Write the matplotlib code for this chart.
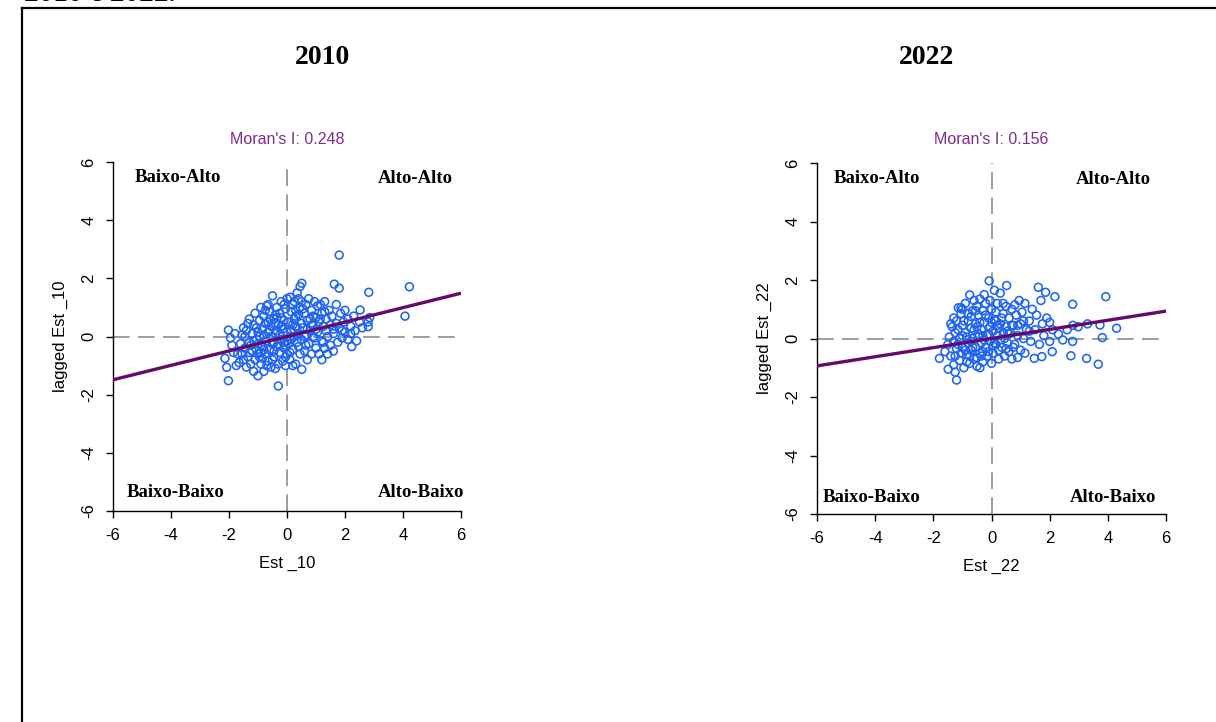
import numpy as np
import matplotlib.pyplot as plt
from matplotlib.lines import Line2D

# ---- data ----
x10 = [-2.02, -2.08, -2.14, -2.02, -1.9, -1.8, -1.7, -1.65, -1.6, -1.55, -1.75, -1.85, -1.5, -1.5, -1.95,
       -1.45, -1.4, -1.4, -1.35, -1.3, -1.3, -1.25, -1.2, -1.2, -1.15, -1.15, -1.1, -1.1, -1.05, -1.05, -1.0, -1.0, -1.45, -1.35, -1.25,
       -0.95, -0.95, -0.9, -0.9, -0.85, -0.85, -0.8, -0.8, -0.75, -0.75, -0.7, -0.7, -0.65, -0.65, -0.6, -0.6, -0.55, -0.55, -0.5, -0.5,
       -0.9, -0.8, -0.7, -0.6, -1.0, -0.85, -0.65, -0.55,
       -0.45, -0.45, -0.4, -0.4, -0.35, -0.35, -0.3, -0.3, -0.25, -0.25, -0.2, -0.2, -0.15, -0.15, -0.1, -0.1, -0.05, -0.05, 0.0, 0.0,
       -0.45, -0.4, -0.3, -0.2, -0.1, -0.35, 0.0, -0.05,
       0.05, 0.05, 0.1, 0.1, 0.15, 0.15, 0.2, 0.2, 0.25, 0.25, 0.3, 0.3, 0.35, 0.35, 0.4, 0.4, 0.45, 0.45, 0.5, 0.5,
       0.1, 0.2, 0.3, 0.4, 0.5, 0.45, 0.51,
       0.51, 0.55, 0.6, 0.6, 0.65, 0.65, 0.7, 0.75, 0.75, 0.8, 0.85, 0.85, 0.9, 0.95, 0.95, 1.0, 1.0, 0.7, 0.8, 0.9,
       1.05, 1.05, 1.1, 1.1, 1.15, 1.2, 1.2, 1.25, 1.3, 1.3, 1.35, 1.4, 1.45, 1.5, 1.5, 1.2, 1.4, 1.35,
       1.55, 1.6, 1.6, 1.63, 1.7, 1.7, 1.75, 1.8, 1.8, 1.8, 1.85, 1.9, 1.95, 2.0, 2.0,
       2.1, 2.1, 2.2, 2.23, 2.3, 2.35, 2.4, 2.5, 2.52, 2.6, 2.8, 2.8, 2.82, 2.85,
       4.07, 4.22,
       -1.15, -1.0, -0.9, -0.75, -0.6, -0.5, -0.4, -0.3, -0.2, -0.1, 0.0, 0.1, 0.2, 0.3, 0.4, 0.55, 0.7, 0.85, 1.0, 1.15,
       1.3, -0.95, -0.8, -0.65, -0.45, -0.25, -0.05, 0.15, 0.35, 0.6, 0.9, 1.25, -1.3, -1.55, -0.35, 0.25, 0.65, 1.6, 1.9, 2.2]
y10 = [-1.52, -1.06, -0.75, 0.22, -0.3, 0.1, -0.6, -0.9, -0.25, 0.05, -1.0, -0.55, -0.8, 0.3, -0.05,
       -0.4, 0.2, -1.05, -0.7, 0.6, -0.2, -0.95, 0.1, -0.5, 0.4, -1.2, -0.8, 0.8, -0.1, 0.3, -1.35, -0.6, 0.0, 0.45, -0.3,
       0.0, 0.55, -0.95, 1.0, -0.35, 0.25, -1.2, 0.7, -0.6, 0.45, 1.05, -0.15, -0.85, 0.15, 0.85, -0.45, -1.05, 0.35, 1.4, -0.25,
       -0.55, 0.05, -1.0, 0.6, -0.25, -0.75, 1.1, 0.0,
       -0.7, 0.6, 0.1, -1.1, 1.0, -0.35, -1.7, 0.4, -0.55, 0.8, -0.1, 1.2, -0.85, 0.25, 0.55, -0.4, -1.0, 0.95, 0.15, -0.6,
       -0.2, 0.45, -0.95, 0.65, -0.2, 0.2, 1.3, -0.3,
       0.5, -0.25, 1.35, -0.8, 0.2, 0.85, -0.45, 1.1, 0.0, 0.6, -0.95, 0.35, 1.5, -0.2, 0.75, 0.1, -0.6, 1.0, 0.45, -0.1,
       0.0, 0.4, 0.9, -0.35, 1.2, 1.72, 1.83,
       -1.13, 0.3, 0.8, -0.5, 1.1, 0.05, 0.55, -0.25, 1.3, 0.2, 0.9, -0.6, 0.4, 1.2, -0.05, 0.65, -0.4, -0.8, 0.6, 0.0,
       0.15, 1.05, -0.6, 0.5, 1.1, -0.15, 0.8, 0.35, -0.4, 1.2, 0.6, 0.0, 0.9, -0.3, 0.4, -0.8, -0.6, 0.2,
       0.7, 0.1, -0.5, 1.80, 0.45, 1.1, -0.2, 2.80, 1.66, 0.3, 0.8, -0.05, 0.5, 0.9, 0.15,
       0.6, -0.1, 0.35, -0.35, 0.7, 0.2, -0.15, 0.5, 0.91, 0.3, 0.34, 0.5, 1.52, 0.65,
       0.70, 1.71,
       -0.15, 0.15, -0.3, 0.9, 0.2, -0.8, 0.75, -0.25, 0.35, 1.1, -0.15, -0.55, -1.0, 0.7, 1.3, 0.95, 0.25, 0.4, 0.25, 0.6,
       0.85, -0.7, -0.45, 0.5, -0.5, 0.05, -0.7, -0.1, 0.3, 0.0, 0.7, -0.2, -0.55, -0.6, 0.65, 1.2, -0.3, 0.25, 0.2, 0.1]

x22 = [-1.79, -1.49, -1.5, -1.45, -1.4, -1.35, -1.3, -1.25, -1.2, -1.2, -1.14, -1.2, -1.3, -1.6, -1.25,
       -1.1, -1.1, -1.05, -1.0, -1.0, -0.95, -0.9, -0.9, -0.85, -0.8, -0.8, -0.75, -0.75, -0.7, -0.7, -0.65, -0.65, -0.6, -0.6,
       -1.15, -1.05, -0.95, -0.85, -0.7, -1.0,
       -0.55, -0.55, -0.5, -0.5, -0.45, -0.45, -0.4, -0.4, -0.35, -0.35, -0.3, -0.3, -0.25, -0.2, -0.2, -0.15, -0.15, -0.1,
       -0.08, -0.05, -0.05, 0.0, 0.0, -0.5, -0.3, -0.1, -0.4, -0.25,
       0.05, 0.05, 0.1, 0.1, 0.15, 0.2, 0.2, 0.25, 0.3, 0.3, 0.35, 0.4, 0.4, 0.45, 0.5, 0.5, 0.52, 0.55, 0.15, 0.25, 0.45, 0.6, 0.6,
       0.65, 0.7, 0.7, 0.75, 0.8, 0.85, 0.9, 0.95, 1.0, 1.0, 1.05, 1.1, 1.15, 1.15, 1.2, 0.8, 0.9,
       1.3, 1.35, 1.4, 1.47, 1.5, 1.55, 1.61, 1.65, 1.73, 1.75, 1.8, 1.86, 1.9, 2.0, 2.09, 2.1, 2.18, 1.7, 2.0,
       2.3, 2.45, 2.6, 2.73, 2.79, 2.79, 2.8, 2.98, 3.27, 3.3, 3.67, 3.73, 3.81, 3.93, 4.30,
       -1.3, -1.15, -1.0, -0.9, -0.8, -0.7, -0.6, -0.5, -0.4, -0.3, -0.2, -0.1, 0.0, 0.1, 0.2, 0.3, 0.4, 0.5, 0.6, 0.7,
       -1.05, -0.85, -0.65, -0.45, -0.25, -0.05, 0.15, 0.35, 0.55, 0.75, -1.4, -0.55, 0.05, 0.9, 1.1, 1.3, -0.75, -0.35, 0.25, -1.25]
y22 = [-0.68, -1.05, -0.2, 0.05, -0.6, 0.4, -0.9, 0.2, -1.42, -0.35, 1.05, 0.6, -0.1, -0.45, -1.15,
       0.0, -0.75, 0.85, -0.3, 0.45, -1.0, 0.2, 1.2, -0.55, 0.6, -0.15, 1.49, -0.85, 0.35, -0.4, 0.95, 0.0, -0.7, 1.3,
       0.3, -0.5, 0.6, 0.05, 0.75, 1.0,
       0.5, -0.3, 1.1, -0.95, 0.15, 0.8, -0.5, 1.35, 0.3, -0.15, 0.95, -0.8, 0.55, -0.3, 1.2, 0.1, -0.6, 0.7,
       1.97, -0.1, 0.4, -0.85, 1.0, 0.4, 0.1, -0.45, -1.0, 1.5,
       0.25, -0.5, 1.65, 0.65, -0.2, 1.2, 0.1, -0.7, 0.5, 1.55, -0.3, 0.85, 0.2, -0.6, 1.1, 0.4, 1.81, -0.15, 0.9, 0.35, 0.0, 0.7, -0.45,
       0.2, 1.0, -0.7, 0.45, -0.2, 0.8, 0.1, 1.3, -0.4, 0.5, 0.9, 0.0, -0.5, 1.2, 0.3, 1.15, -0.65,
       0.6, -0.1, 1.0, -0.68, 0.3, 0.8, 1.75, -0.2, -0.62, 0.5, 0.1, 1.58, 0.7, -0.1, -0.45, 0.3, 1.43, 1.3, 0.55,
       0.15, -0.05, 0.3, -0.59, 1.17, -0.1, 0.45, 0.4, -0.68, 0.5, -0.88, 0.46, 0.03, 1.43, 0.35,
       0.7, -0.2, 0.1, -0.4, 0.85, -0.1, 0.3, -0.65, 0.55, -0.45, 0.8, 0.15, 0.55, -0.15, 0.45, -0.05, 1.2, -0.35, 0.15, 0.45,
       1.05, -0.8, -0.3, 0.05, -0.05, 1.3, 0.6, 0.7, 0.25, -0.3, 0.5, 0.95, -0.25, 0.45, 0.6, 0.25, -0.6, -0.6, -0.4, -0.6]

years   = ['2010', '2022']
suffix  = ['_10', '_22']
morans  = [0.248, 0.156]
xs      = [x10, x22]
ys      = [y10, y22]
quad_labels = ['Baixo-Alto', 'Alto-Alto', 'Baixo-Baixo', 'Alto-Baixo']

pt_color    = '#1f64f0'
line_color  = '#650a68'
text_purple = '#7f2d8c'
sans  = 'Liberation Sans'
serif = 'Liberation Serif'

fig = plt.figure(figsize=(12.16, 7.22), dpi=100)
W, H = 1216, 722

# outer frame (only top and left edges fall inside the picture)
fig.add_artist(Line2D([22 / W, 1.0], [1 - 8 / H, 1 - 8 / H], color='black', lw=1.6))
fig.add_artist(Line2D([22 / W, 22 / W], [1 - 8 / H, 0.0], color='black', lw=1.6))
# caption line above the frame, mostly cut off as in the source
fig.text(24 / W, 1 - 1 / H, '2010 e 2022.', family=serif, fontweight='bold',
         fontsize=21, ha='left', va='baseline')

# axes boxes in pixels: left, top, right, bottom
boxes  = [(113, 162, 461, 511), (817, 163, 1166, 514)]
titles = [(322, 58), (927, 58)]
# quadrant label positions (axes fraction)
quad_pos = [
    [(0.187, 0.957), (0.868, 0.954), (0.181, 0.052), (0.885, 0.052)],
    [(0.172, 0.957), (0.848, 0.952), (0.155, 0.046), (0.848, 0.048)],
]

for k in range(2):
    l, t, r, b = boxes[k]
    ax = fig.add_axes([l / W, 1 - b / H, (r - l) / W, (b - t) / H])
    x = np.array(xs[k])
    y = np.array(ys[k])

    ax.axhline(0, color='#8c8c8c', lw=1.2, dashes=(10, 5), zorder=1)
    ax.axvline(0, color='#8c8c8c', lw=1.2, dashes=(10, 5), zorder=1)
    ax.scatter(x, y, s=32, facecolors='none', edgecolors=pt_color, linewidths=1.15, zorder=2)

    xx = np.array([-6, 6])
    ax.plot(xx, morans[k] * xx, color=line_color, lw=2.4, zorder=3, solid_capstyle='butt')

    ax.set_xlim(-6, 6)
    ax.set_ylim(-6, 6)
    ax.set_xticks(np.arange(-6, 7, 2))
    ax.set_yticks(np.arange(-6, 7, 2))
    ax.set_xticklabels([str(v) for v in range(-6, 7, 2)], family=sans, fontsize=12)
    ax.set_yticklabels([str(v) for v in range(-6, 7, 2)], family=sans, fontsize=12,
                       rotation=90, va='center')
    ax.tick_params(direction='out', length=5, width=1, pad=7)
    for side in ['top', 'right']:
        ax.spines[side].set_visible(False)
    for side in ['left', 'bottom']:
        ax.spines[side].set_linewidth(1.0)
    ax.patch.set_alpha(0)

    ax.text(0.5, 1 + 23 / (b - t), "Moran's I: %.3f" % morans[k], transform=ax.transAxes,
            ha='center', va='center', family=sans, fontsize=11.5, color=text_purple)
    ax.text(0.5, -52 / (b - t), 'Est ' + suffix[k], transform=ax.transAxes,
            ha='center', va='center', family=sans, fontsize=12)
    ax.text(-53 / (r - l), 0.5, 'lagged Est ' + suffix[k], transform=ax.transAxes,
            ha='center', va='center', rotation=90, family=sans, fontsize=12)

    for lab, (px, py) in zip(quad_labels, quad_pos[k]):
        ax.text(px, py, lab, transform=ax.transAxes, ha='center', va='center',
                family=serif, fontweight='bold', fontsize=13.5)

    fig.text(titles[k][0] / W, 1 - titles[k][1] / H, years[k], ha='center', va='center',
             family=serif, fontweight='bold', fontsize=20)

fig.savefig('out.png', dpi=100)
